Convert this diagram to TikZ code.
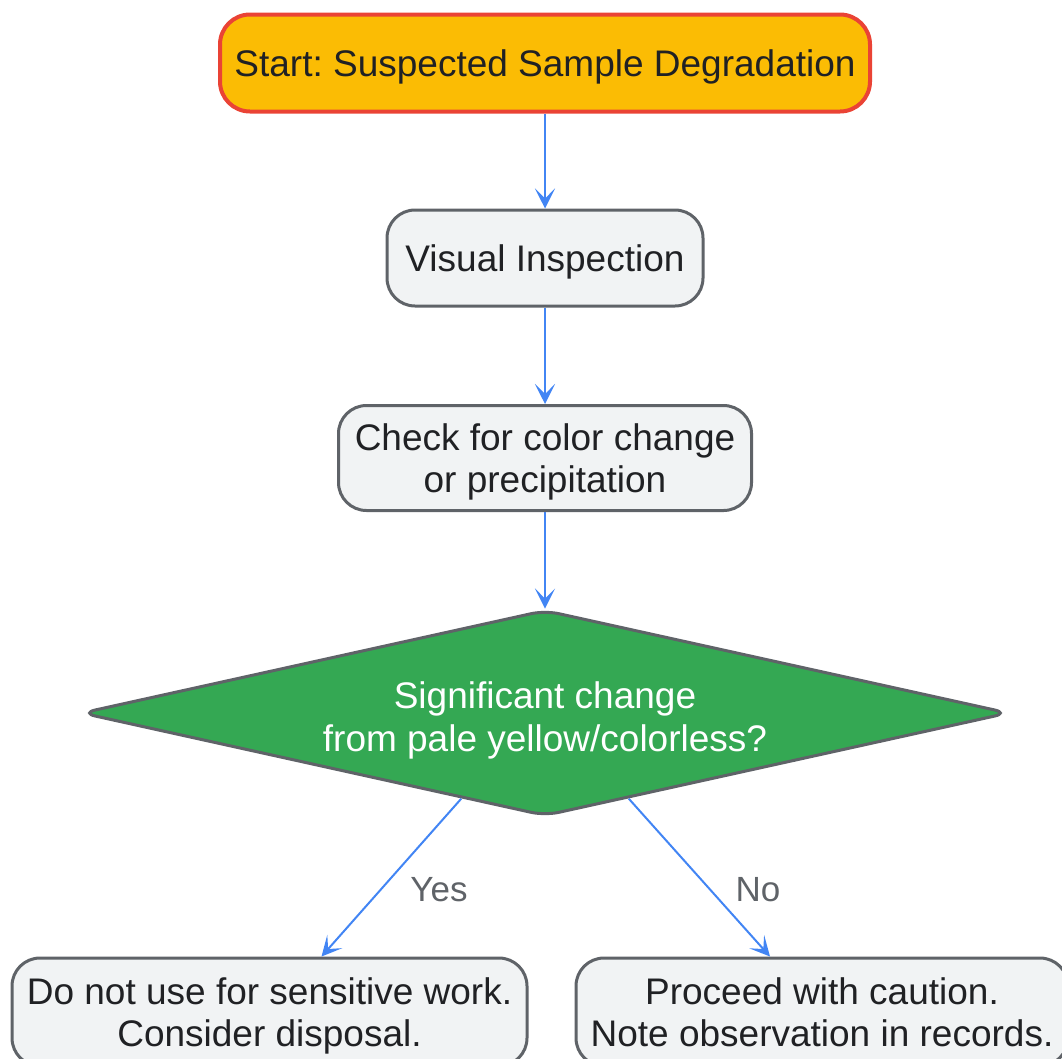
\documentclass[tikz,border=0pt]{standalone}
\usepackage{fontspec}
\setmainfont{Liberation Sans}
\usetikzlibrary{shapes.geometric,arrows.meta,calc}
\definecolor{gyellow}{HTML}{FBBC04}
\definecolor{gred}{HTML}{EA4335}
\definecolor{ggreen}{HTML}{34A853}
\definecolor{gblue}{HTML}{4285F4}
\definecolor{ggray}{HTML}{5F6368}
\definecolor{glight}{HTML}{F1F3F4}
\definecolor{gtext}{HTML}{202124}
\frenchspacing
\newcommand\lowtxt[1]{\raisebox{-5pt}[\height][\depth]{\begin{tabular}{@{}c@{}}#1\end{tabular}}}
\tikzset{
  x=1pt, y=1pt,
  txt/.style={font=\fontsize{37}{42}\selectfont, text=gtext},
  procbox/.style={txt, draw=ggray, fill=glight, line width=3pt, rounded corners=28pt, inner sep=0pt},
  startbox/.style={txt, draw=gred, fill=gyellow, line width=4pt, rounded corners=30pt, inner sep=0pt},
  decbox/.style={shape=diamond, draw=ggray, fill=ggreen, line width=3pt, inner sep=0pt, rounded corners=14pt},
  dectxt/.style={font=\fontsize{37}{43}\selectfont, text=white},
  flow/.style={draw=gblue, line width=2pt, -{Stealth[length=20pt,width=20pt,inset=10pt]}},
  lbl/.style={font=\fontsize{35}{40}\selectfont, text=ggray}
}
\begin{document}
\begin{tikzpicture}
\useasboundingbox (0,0) rectangle (1062,-1058);
\clip (0,0) rectangle (1062,-1058);
\node[startbox, minimum width=650pt, minimum height=97pt] (start) at (545,-63) {\lowtxt{Start: Suspected Sample Degradation}};
\node[procbox, minimum width=316pt, minimum height=96pt] (vis) at (545,-258) {\lowtxt{Visual Inspection}};
\node[procbox, minimum width=413pt, minimum height=105pt] (chk) at (545,-458) {\lowtxt{Check for color change\\or precipitation}};
\node[decbox, minimum width=928pt, minimum height=206pt] (dec) at (545,-713) {};
\node[dectxt] (dectext) at (545,-716) {\lowtxt{Significant change\\from pale yellow/colorless?}};
\node[procbox, minimum width=515pt, minimum height=108pt] (bad) at (269.5,-1012) {\lowtxt{Do not use for sensitive work.\\Consider disposal.}};
\node[procbox, minimum width=492pt, minimum height=108pt] (ok) at (822,-1012) {\lowtxt{Proceed with caution.\\Note observation in records.}};
\coordinate (ds1) at ($(dec.south)!0.18!(dec.west)$);
\coordinate (ds2) at ($(dec.south)!0.18!(dec.east)$);
\coordinate (bt) at ($(bad.north)+(52,0)$);
\coordinate (ot) at ($(ok.north)+(-52,0)$);
\draw[flow] (start) -- (vis);
\draw[flow] (vis) -- (chk);
\draw[flow] (chk) -- (dec);
\draw[flow] (ds1) -- (bt);
\draw[flow] (ds2) -- (ot);
\node[lbl] (yes) at (439,-890) {Yes};
\node[lbl] (no) at (758,-890) {No};
\end{tikzpicture}
\end{document}
